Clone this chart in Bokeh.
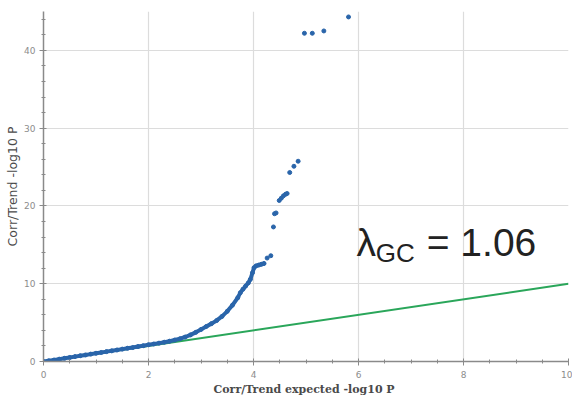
from bokeh.plotting import figure
from bokeh.models import Range1d, SingleIntervalTicker, Label, ColumnDataSource
from bokeh.embed import file_html
from bokeh.resources import INLINE

expected = [0.0, 0.1, 0.2, 0.3, 0.4, 0.5, 0.6, 0.7, 0.8, 0.9, 1.0, 1.1, 1.2, 1.3, 1.4,
            1.5, 1.6, 1.7, 1.8, 1.9, 2.0, 2.1, 2.2, 2.3, 2.4, 2.5, 2.6, 2.7, 2.8, 2.9,
            3.0, 3.1, 3.2, 3.3, 3.4, 3.5, 3.6, 3.7, 3.75, 3.8, 3.85, 3.9, 3.94, 3.98,
            4.01, 4.05, 4.10, 4.15, 4.20, 4.26, 4.33, 4.38, 4.40, 4.43, 4.49, 4.53,
            4.57, 4.61, 4.64, 4.69, 4.77, 4.85, 4.97, 5.12, 5.34, 5.81]
observed = [0.0, 0.09, 0.19, 0.30, 0.41, 0.52, 0.63, 0.74, 0.84, 0.95, 1.06, 1.16, 1.27,
            1.37, 1.48, 1.59, 1.70, 1.80, 1.92, 2.03, 2.15, 2.25, 2.36, 2.48, 2.61, 2.76,
            2.93, 3.15, 3.42, 3.75, 4.12, 4.50, 4.87, 5.28, 5.80, 6.45, 7.25, 8.20, 8.85,
            9.30, 9.70, 10.10, 10.56, 11.40, 12.06, 12.30, 12.40, 12.50, 12.60, 13.30,
            13.60, 17.30, 19.00, 19.10, 20.70, 21.00, 21.30, 21.50, 21.60, 24.30, 25.10,
            25.75, 42.20, 42.20, 42.50, 44.30]

# reference line y = x
ref_x = [0, 10]
ref_y = [0, 10]

x_ticks_interval = 2
y_ticks_interval = 10
lambda_text = "= 1.06"

BLUE = "#2a65aa"
GREEN = "#2aa65a"

p = figure(width=572, height=398, output_backend="svg", toolbar_location=None,
           x_range=Range1d(0, 10), y_range=Range1d(0, 45),
           min_border_left=43, min_border_right=4, min_border_top=11, min_border_bottom=36)
p.outline_line_color = None
p.background_fill_color = "white"
p.border_fill_color = "white"

p.xaxis.ticker = SingleIntervalTicker(interval=x_ticks_interval, num_minor_ticks=4)
p.yaxis.ticker = SingleIntervalTicker(interval=y_ticks_interval, num_minor_ticks=5)

for ax in (p.xaxis, p.yaxis):
    ax.axis_line_color = "#8a8a8a"
    ax.axis_line_width = 1.5
    ax.major_tick_line_color = "#8a8a8a"
    ax.minor_tick_line_color = "#8a8a8a"
    ax.major_tick_in = 3
    ax.major_tick_out = 4
    ax.minor_tick_in = 2
    ax.minor_tick_out = 2
    ax.major_label_text_color = "#8c8c8c"
    ax.major_label_text_font = "DejaVu Sans"
    ax.major_label_text_font_size = "9px"
    ax.axis_label_text_color = "#4a4a4a"
    ax.axis_label_text_font_style = "normal"

p.xaxis.axis_label = "Corr/Trend  expected -log10 P"
p.xaxis.axis_label_text_font = "DejaVu Serif"
p.xaxis.axis_label_text_font_style = "bold"
p.xaxis.axis_label_text_font_size = "11px"
p.xaxis.axis_label_standoff = 2
p.xaxis.major_label_standoff = 5

p.yaxis.axis_label = "Corr/Trend -log10 P"
p.yaxis.axis_label_text_font = "DejaVu Sans"
p.yaxis.axis_label_text_font_size = "12.5px"
p.yaxis.axis_label_standoff = 1
p.yaxis.major_label_standoff = 4

p.xgrid.grid_line_color = "#dcdcdc"
p.ygrid.grid_line_color = "#dcdcdc"
p.xgrid.grid_line_width = 1.2
p.ygrid.grid_line_width = 1.2

# green reference line
p.line(ref_x, ref_y, line_color=GREEN, line_width=2)

# dense band drawn as thick line through the read points, plus individual dots
band_n = sum(1 for v in expected if v <= 4.2)
p.line(expected[:band_n], observed[:band_n], line_color=BLUE, line_width=4,
       line_cap="round", line_join="round")
src = ColumnDataSource(dict(x=expected, y=observed))
p.scatter("x", "y", source=src, size=4, fill_color=BLUE, line_color=BLUE)

# lambda annotation
p.add_layout(Label(x=5.96, y=15.3, text="λ", text_font="Liberation Sans",
                   text_baseline="alphabetic",
                   text_font_size="39px", text_color="#222222"))
p.add_layout(Label(x=6.33, y=14.0, text="GC", text_font="Liberation Sans",
                   text_baseline="alphabetic",
                   text_font_size="26px", text_color="#222222"))
p.add_layout(Label(x=7.30, y=15.3, text=lambda_text, text_font="Liberation Sans",
                   text_baseline="alphabetic",
                   text_font_size="39px", text_color="#222222"))

open("out.html", "w").write(file_html(p, INLINE))
